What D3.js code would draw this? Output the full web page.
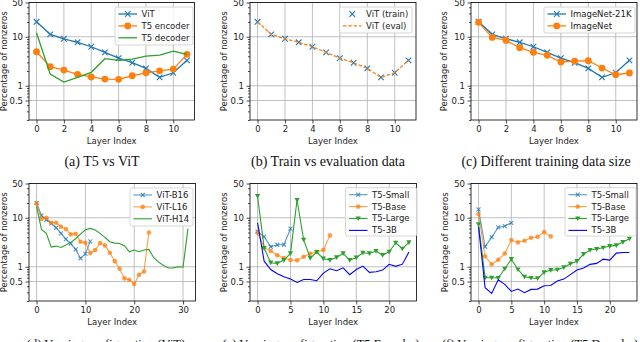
<!DOCTYPE html>
<html>
<head>
<meta charset="utf-8">
<script src="https://cdn.jsdelivr.net/npm/d3@7"></script>
<style>
body{margin:0;background:#fff}
svg{display:block;font-family:"DejaVu Sans",sans-serif}
</style>
</head>
<body>
<svg id="chart" width="640" height="342"></svg>
<script>
// percentage of nonzeros per layer
const vit = [20.2,11.2,9.1,7.7,6.25,4.8,3.67,2.95,2.26,1.48,1.84,3.3];
const t5Encoder = [4.94,2.45,2.09,1.71,1.51,1.37,1.35,1.6,1.84,2.02,2.19,4.37];
const t5Decoder = [12.1,1.73,1.19,1.48,1.88,3.56,3.3,3.5,4.04,4.23,5.1,4.37];
const imageNet = [19.7,9.7,8.4,5.97,4.8,4.17,3.05,3.19,3.24,2.3,1.68,1.82];
const vitL16 = [19.6,9.4,10,7.9,7.9,6.55,5.87,4.57,4.72,3.24,3.09,1.9,2.19,3.04,2.73,1.93,1.3,0.91,0.578,0.543,0.443,0.687,0.8,5.0];
const vitH14 = [17,5.8,4.8,2.52,2.64,2.48,2.77,3.14,3.73,4.64,5.69,6.06,5.6,4.79,3.97,3.24,3.04,2.99,2.68,2.02,2.19,2.02,2.19,2.26,1.53,1.24,1.06,0.94,0.95,1.0,0.98,6.0];
const t5SmallEnc = [5.2,4.1,2.56,2.81,2.81,5.97];
const t5LargeEnc = [27.7,2.4,1.21,1.17,1.37,1.87,23,3.56,1.5,1.99,1.46,1.37,1.55,1.87,1.37,1.53,1.93,1.87,2.09,1.73,2.02,3.09,2.33,3.14];
const t5_3bEnc = [7.9,1.3,0.88,0.72,0.625,0.56,0.479,0.55,0.55,0.518,0.74,0.91,0.83,0.95,0.69,0.88,1.03,0.77,0.79,0.855,1.12,1.02,1.13,1.99];
const t5SmallDec = [14.8,2.56,4.03,6.35,6.76,7.9];
const t5BaseDec = [11.9,1.63,1.12,1.39,1.87,3.5,3.14,3.4,3.91,4.1,5.1,4.16];
const t5LargeDec = [7.3,0.597,0.597,0.59,0.91,1.43,0.88,0.625,0.59,0.58,0.77,0.855,0.87,0.97,1.15,1.3,1.81,2.19,2.3,2.44,2.64,2.73,3.19,3.73];
const t5_3bDec = [6.55,0.373,0.286,0.543,0.436,0.314,0.35,0.295,0.345,0.35,0.41,0.415,0.51,0.56,0.69,0.855,0.94,1.12,1.17,1.43,1.37,1.9,1.96,1.96];

const ticksTop = [0,2,4,6,8,10];
const ticksD = [0,10,20,30];
const ticksEF = [0,5,10,15,20];
const yTicks = [0.5,1,10,50];
const yMinor = [0.2,0.3,0.4,0.6,0.7,0.8,0.9,2,3,4,5,6,7,8,9,20,30,40];

const blue = "#1f77b4", orange = "#ff7f0e", green = "#2ca02c", pureBlue = "#0000ff";

const panels = [
  {box:[29,2.5,194.5,120], n:12, ticks:ticksTop, yLabX:4.5, big:true,
   caption:"(a) T5 vs ViT", capX:102, capY:166, capSize:14, legend:[115,7,193,45],
   series:[
     {name:"ViT", values:vit, color:blue, marker:"x", line:true},
     {name:"T5 encoder", values:t5Encoder, color:orange, marker:"o", line:true},
     {name:"T5 decoder", values:t5Decoder, color:green, line:true}]},
  {box:[250,2.5,416,120], n:12, ticks:ticksTop, yLabX:224.5, big:true,
   caption:"(b) Train vs evaluation data", capX:328, capY:166, capSize:14, legend:[339.5,7,412,33],
   series:[
     {name:"ViT (train)", values:vit, color:blue, marker:"x", line:false},
     {name:"ViT (eval)", values:vit, color:orange, line:true, dash:"3.5,1.8"}]},
  {box:[471,2.5,637,120], n:12, ticks:ticksTop, yLabX:444, big:true,
   caption:"(c) Different training data size", capX:546, capY:166, capSize:14, legend:[544,7,635,33],
   series:[
     {name:"ImageNet-21K", values:vit, color:blue, marker:"x", line:true},
     {name:"ImageNet", values:imageNet, color:orange, marker:"o", line:true}]},
  {box:[29,183.5,195.5,301], n:32, ticks:ticksD, yLabX:4, big:false,
   caption:"(d) Varying configuration (ViT)", capX:106, capY:348, capSize:12.5, legend:[130,188,193,226],
   series:[
     {name:"ViT-B16", values:vit, color:blue, marker:"x", line:true, op:0.75},
     {name:"ViT-L16", values:vitL16, color:orange, marker:"o", line:true, op:0.75},
     {name:"ViT-H14", values:vitH14, color:green, line:true}]},
  {box:[250,183.5,416.5,301], n:24, ticks:ticksEF, yLabX:224.5, big:false,
   caption:"(e) Varying configuration (T5 Encoder)", capX:321, capY:348, capSize:12.5, legend:[345.5,187.7,417,236],
   series:[
     {name:"T5-Small", values:t5SmallEnc, color:blue, marker:"x", line:true, op:0.75},
     {name:"T5-Base", values:t5Encoder, color:orange, marker:"o", line:true, op:0.75},
     {name:"T5-Large", values:t5LargeEnc, color:green, marker:"v", line:true},
     {name:"T5-3B", values:t5_3bEnc, color:pureBlue, line:true}]},
  {box:[471,183.5,637,301], n:24, ticks:ticksEF, yLabX:445, big:false,
   caption:"(f) Varying configuration (T5 Decoder)", capX:540, capY:348, capSize:12.5, legend:[565,187.7,636,236],
   series:[
     {name:"T5-Small", values:t5SmallDec, color:blue, marker:"x", line:true, op:0.75},
     {name:"T5-Base", values:t5BaseDec, color:orange, marker:"o", line:true, op:0.75},
     {name:"T5-Large", values:t5LargeDec, color:green, marker:"v", line:true},
     {name:"T5-3B", values:t5_3bDec, color:pureBlue, line:true}]}
];

const svg = d3.select("#chart");

function marker(g, type, x, y, color, s, op) {
  if (type === "x") {
    g.append("path")
      .attr("d", `M${x-s},${y-s}L${x+s},${y+s}M${x-s},${y+s}L${x+s},${y-s}`)
      .attr("stroke", color).attr("stroke-width", 1.1).attr("fill", "none")
      .attr("opacity", op);
  } else if (type === "o") {
    g.append("circle").attr("cx", x).attr("cy", y).attr("r", s)
      .attr("fill", color).attr("opacity", op);
  } else if (type === "v") {
    g.append("path")
      .attr("d", `M${x-s},${y-s*0.8}L${x+s},${y-s*0.8}L${x},${y+s}Z`)
      .attr("fill", color).attr("opacity", op);
  }
}

panels.forEach((p, pi) => {
  const [x0, y0, x1, y1] = p.box;
  const m = (p.n - 1) * 0.05;
  const x = d3.scaleLinear().domain([-m, p.n - 1 + m]).range([x0, x1]);
  const y = d3.scaleLog().domain([0.2, 50]).range([y1, y0]);
  const g = svg.append("g");

  // GRID
  g.append("g").selectAll("line").data(p.ticks).join("line")
    .attr("x1", d => x(d)).attr("x2", d => x(d)).attr("y1", y0).attr("y2", y1)
    .attr("stroke", "#b0b0b0").attr("stroke-width", 0.8);
  g.append("g").selectAll("line").data(yTicks).join("line")
    .attr("x1", x0).attr("x2", x1).attr("y1", d => y(d)).attr("y2", d => y(d))
    .attr("stroke", "#b0b0b0").attr("stroke-width", 0.8);

  // LINES + MARKERS
  const clipId = "clip" + pi;
  g.append("clipPath").attr("id", clipId).append("rect")
    .attr("x", x0).attr("y", y0).attr("width", x1 - x0).attr("height", y1 - y0);
  const plot = g.append("g").attr("clip-path", `url(#${clipId})`);
  const lw = p.big ? 1.3 : 1.1;
  const ms = p.big ? {x:2.8, o:3.4, v:3} : {x:2, o:2.3, v:2.6};

  p.series.forEach(s => {
    const pts = s.values.map((v, i) => [i, v]);
    if (s.line) {
      plot.append("path").datum(pts)
        .attr("fill", "none").attr("stroke", s.color).attr("stroke-width", lw)
        .attr("stroke-dasharray", s.dash || null).attr("opacity", s.op || 1)
        .attr("d", d3.line().x(d => x(d[0])).y(d => y(d[1])));
    }
    if (s.marker) {
      pts.forEach(d => marker(plot, s.marker, x(d[0]), y(d[1]), s.color, ms[s.marker], s.op || 1));
    }
  });

  // AXES
  const ax = g.append("g").attr("transform", `translate(0,${y1})`)
    .call(d3.axisBottom(x).tickValues(p.ticks).tickSize(3.5).tickPadding(2.5));
  const ay = g.append("g").attr("transform", `translate(${x0},0)`)
    .call(d3.axisLeft(y).tickValues(yTicks).tickSize(3.5).tickPadding(2.5).tickFormat(d3.format("")));
  g.append("g").attr("transform", `translate(${x0},0)`)
    .call(d3.axisLeft(y).tickValues(yMinor).tickSize(2).tickFormat(""))
    .call(a => a.select(".domain").remove());
  [ax, ay].forEach(a => {
    a.select(".domain").remove();
    a.attr("font-family", null).attr("font-size", null);
    a.selectAll("text").attr("font-size", 8.5).attr("fill", "#222");
  });
  g.selectAll(".tick line").attr("stroke", "#222").attr("stroke-width", 0.8);

  // FRAME
  g.append("rect").attr("x", x0).attr("y", y0).attr("width", x1 - x0).attr("height", y1 - y0)
    .attr("fill", "none").attr("stroke", "#000").attr("stroke-width", 0.8);

  // LABELS
  g.append("text").attr("x", (x0 + x1) / 2).attr("y", y1 + 23.5)
    .attr("text-anchor", "middle").attr("font-size", 8.5).attr("fill", "#222")
    .text("Layer Index");
  g.append("text")
    .attr("transform", `translate(${p.yLabX},${(y0 + y1) / 2}) rotate(-90)`)
    .attr("dy", "0.35em").attr("text-anchor", "middle").attr("font-size", 8.5).attr("fill", "#222")
    .text("Percentage of nonzeros");

  // LEGEND
  const [lx0, ly0, lx1, ly1] = p.legend;
  const lg = g.append("g");
  lg.append("rect").attr("x", lx0).attr("y", ly0).attr("width", lx1 - lx0).attr("height", ly1 - ly0)
    .attr("rx", 2).attr("fill", "#fff").attr("fill-opacity", 0.8)
    .attr("stroke", "#cccccc").attr("stroke-width", 0.8);
  p.series.forEach((s, i) => {
    const cy = ly0 + 7 + i * 11.9;
    if (s.line) {
      lg.append("line").attr("x1", lx0 + 3.5).attr("x2", lx0 + 22).attr("y1", cy).attr("y2", cy)
        .attr("stroke", s.color).attr("stroke-width", lw)
        .attr("stroke-dasharray", s.dash || null).attr("opacity", s.op || 1);
    }
    if (s.marker) marker(lg, s.marker, lx0 + 12.75, cy, s.color, ms[s.marker], s.op || 1);
    lg.append("text").attr("x", lx0 + 26.5).attr("y", cy).attr("dy", "0.35em")
      .attr("font-size", 8.5).attr("fill", "#222").text(s.name);
  });

  // CAPTION
  svg.append("text").attr("x", p.capX).attr("y", p.capY)
    .attr("text-anchor", "middle").attr("font-family", "Liberation Serif, serif")
    .attr("font-size", p.capSize).attr("fill", "#111").text(p.caption);
});
</script>
</body>
</html>
